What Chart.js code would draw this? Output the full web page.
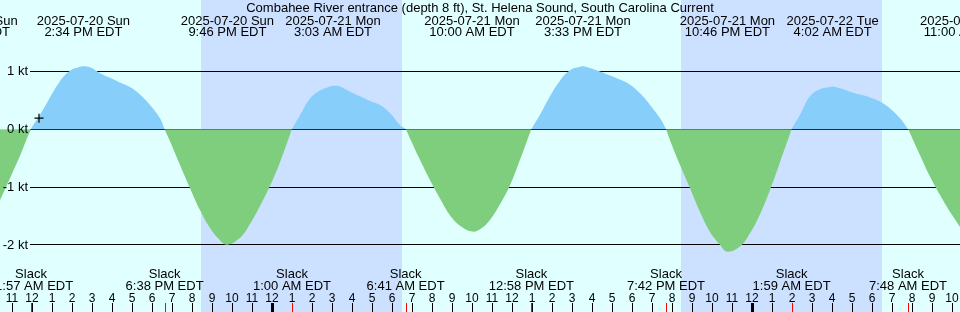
<!DOCTYPE html>
<html>
<head>
<meta charset="utf-8">
<title>Combahee River entrance current</title>
<script src="https://cdn.jsdelivr.net/npm/chart.js@4/dist/chart.umd.min.js"></script>
<style>
  html, body { margin: 0; padding: 0; background: #e0ffff; }
  #tideChart { display: block; }
</style>
</head>
<body>
<canvas id="tideChart" width="960" height="312"></canvas>
<script>
// Hours are counted from 2025-07-21 00:00 EDT
const chartTitle = 'Combahee River entrance (depth 8 ft), St. Helena Sound, South Carolina Current';

// current speed (kt, flood positive)
const flowHours = [
  -13.6, -13.1, -12.6, -12.05, -11.6, -11.1, -10.6, -10.1, -9.6, -9.43, -9.1, -8.6, -8.1, -7.6, -7.1, -6.6,
  -6.1, -5.6, -5.37, -5.1, -4.6, -4.1, -3.6, -3.1, -2.6, -2.23, -1.6, -1.1, -0.6, -0.1, 0.4, 0.9,
  1.0, 1.4, 1.9, 2.4, 2.9, 3.05, 3.4, 3.9, 4.4, 4.9, 5.4, 5.9, 6.4, 6.68, 6.9, 7.4,
  7.9, 8.4, 8.9, 9.4, 10.0, 10.4, 10.9, 11.4, 11.9, 12.4, 12.9, 12.97, 13.4, 13.9, 14.4, 14.9,
  15.4, 15.55, 15.9, 16.4, 16.9, 17.4, 17.9, 18.4, 18.9, 19.4, 19.7, 19.9, 20.4, 20.9, 21.4, 21.9,
  22.4, 22.77, 23.4, 23.9, 24.4, 24.9, 25.4, 25.9, 25.98, 26.4, 26.9, 27.4, 27.9, 28.03, 28.4, 28.9,
  29.4, 29.9, 30.4, 30.9, 31.4, 31.8, 31.9, 32.4, 32.9, 33.4, 33.9, 34.4
];
const flowKnots = [
  -1.23, -0.85, -0.46, 0, 0.25, 0.55, 0.83, 1.01, 1.08, 1.09, 1.07, 0.97, 0.89, 0.81, 0.73, 0.60,
  0.42, 0.19, 0, -0.21, -0.62, -1.02, -1.40, -1.71, -1.92, -2.00, -1.88, -1.64, -1.33, -0.98, -0.57, -0.09,
  0, 0.24, 0.53, 0.67, 0.74, 0.75, 0.74, 0.65, 0.57, 0.49, 0.42, 0.28, 0.07, 0, -0.16, -0.53,
  -0.88, -1.20, -1.49, -1.67, -1.77, -1.73, -1.57, -1.30, -0.97, -0.53, -0.06, 0, 0.25, 0.57, 0.84, 1.02,
  1.08, 1.09, 1.06, 1.00, 0.93, 0.86, 0.77, 0.62, 0.42, 0.19, 0, -0.19, -0.62, -1.02, -1.43, -1.78,
  -2.00, -2.12, -2.03, -1.80, -1.47, -1.05, -0.57, -0.08, 0, 0.25, 0.57, 0.69, 0.73, 0.74, 0.71, 0.65,
  0.60, 0.55, 0.48, 0.36, 0.19, 0, -0.07, -0.45, -0.82, -1.14, -1.43, -1.69
];

// max flood / max ebb events (top labels)
const maxHours = [-15.05, -9.43, -2.23, 3.05, 10.0, 15.55, 22.77, 28.03, 34.7];
const maxDates = ['2025-07-20 Sun', '2025-07-20 Sun', '2025-07-20 Sun', '2025-07-21 Mon', '2025-07-21 Mon',
  '2025-07-21 Mon', '2025-07-21 Mon', '2025-07-22 Tue', '2025-07-22 Tue'];
const maxTimes = ['8:57 AM EDT', '2:34 PM EDT', '9:46 PM EDT', '3:03 AM EDT', '10:00 AM EDT',
  '3:33 PM EDT', '10:46 PM EDT', '4:02 AM EDT', '11:00 AM EDT'];

// slack water events (bottom labels, red ticks)
const slackHours = [-12.05, -5.37, 1.0, 6.68, 12.97, 19.7, 25.98, 31.8];
const slackTimes = ['11:57 AM EDT', '6:38 PM EDT', '1:00 AM EDT', '6:41 AM EDT', '12:58 PM EDT',
  '7:42 PM EDT', '1:59 AM EDT', '7:48 AM EDT'];

// night shading (sunset -> sunrise)
const nightStart = [-3.55, 20.45];
const nightEnd = [6.5, 30.5];

// y axis lines and their labels
const levelValues = [1, 0, -1, -2];
const levelLabels = ['1 kt', '0 kt', '-1 kt', '-2 kt'];

// hour ticks along the bottom
const firstHour = -13;
const lastHour = 34;

// "now" cross
const nowMark = { x: -11.65, y: 0.19 };

const DAY_BG = 'rgb(224,255,255)';
const NIGHT_BG = 'rgb(204,224,255)';
const FLOOD = 'rgb(135,206,250)';
const EBB = 'rgb(126,206,126)';
const FONT = '"Liberation Sans", Arial, sans-serif';

const hourLabel = h => {
  const v = ((h % 12) + 12) % 12;
  return String(v === 0 ? 12 : v);
};

const tidePlugin = {
  id: 'tideDecor',
  beforeDraw(chart) {
    const { ctx, scales: { x } } = chart;
    ctx.save();
    ctx.fillStyle = DAY_BG;
    ctx.fillRect(0, 0, chart.width, chart.height);
    ctx.fillStyle = NIGHT_BG;
    nightStart.forEach((s, i) => {
      const x0 = x.getPixelForValue(s);
      const x1 = x.getPixelForValue(nightEnd[i]);
      ctx.fillRect(x0, 0, x1 - x0, chart.height);
    });
    ctx.restore();
  },
  beforeDatasetsDraw(chart) {
    const { ctx, scales: { y } } = chart;
    ctx.save();
    ctx.strokeStyle = '#000';
    ctx.lineWidth = 1;
    levelValues.forEach(v => {
      const py = Math.floor(y.getPixelForValue(v)) + 0.5;
      ctx.beginPath();
      ctx.moveTo(30, py);
      ctx.lineTo(chart.width, py);
      ctx.stroke();
    });
    ctx.restore();
  },
  afterDraw(chart) {
    const { ctx, scales: { x, y } } = chart;
    ctx.save();
    ctx.fillStyle = '#000';
    ctx.textBaseline = 'alphabetic';

    // title
    ctx.font = '13px ' + FONT;
    ctx.textAlign = 'center';
    ctx.fillText(chartTitle, chart.width / 2, 12);

    // max current labels
    maxHours.forEach((h, i) => {
      const px = x.getPixelForValue(h);
      ctx.fillText(maxDates[i], px, 25);
      ctx.fillText(maxTimes[i], px, 36);
    });

    // slack labels
    slackHours.forEach((h, i) => {
      const px = x.getPixelForValue(h);
      ctx.fillText('Slack', px, 278);
      ctx.fillText(slackTimes[i], px, 289.5);
    });

    // y labels
    ctx.textAlign = 'right';
    ctx.textBaseline = 'middle';
    levelLabels.forEach((t, i) => {
      ctx.fillText(t, 28, y.getPixelForValue(levelValues[i]) + 0.5);
    });

    // hour ticks
    ctx.textAlign = 'center';
    ctx.textBaseline = 'alphabetic';
    ctx.font = '12px ' + FONT;
    for (let h = firstHour; h <= lastHour; h++) {
      const px = Math.round(x.getPixelForValue(h));
      ctx.fillText(hourLabel(h), px, 301.5);
      ctx.fillRect(h % 24 === 0 ? px - 1 : px, 303, h % 24 === 0 ? 3 : 1, 9);
    }
    ctx.fillStyle = 'rgb(255,0,0)';
    slackHours.forEach(h => {
      const px = Math.round(x.getPixelForValue(h));
      ctx.fillRect(px, 303, 1, 9);
    });
    ctx.restore();
  }
};

const ctx = document.getElementById('tideChart');
new Chart(ctx, {
  type: 'line',
  data: {
    datasets: [
      {
        data: flowHours.map((h, i) => ({ x: h, y: flowKnots[i] })),
        borderColor: 'rgba(0,0,0,0)',
        borderWidth: 1,
        pointRadius: 0,
        tension: 0.4,
        order: 1,
        fill: { target: 'origin', above: FLOOD, below: EBB }
      },
      {
        data: [nowMark],
        showLine: false,
        pointStyle: 'cross',
        pointRadius: 4.5,
        borderColor: '#000',
        borderWidth: 1.2,
        order: 0,
        fill: false
      }
    ]
  },
  options: {
    responsive: false,
    animation: false,
    events: [],
    layout: { padding: 0, autoPadding: false },
    plugins: {
      legend: { display: false },
      tooltip: { enabled: false }
    },
    scales: {
      x: { type: 'linear', min: -13.6, max: 34.4, display: false },
      y: { min: -3.1626, max: 2.2353, display: false }
    }
  },
  plugins: [tidePlugin]
});
</script>
</body>
</html>
